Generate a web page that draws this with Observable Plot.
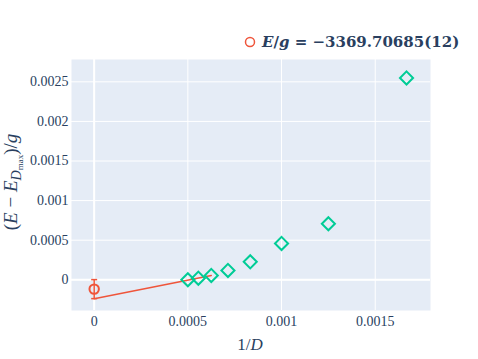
<!DOCTYPE html>
<html>
<head>
<meta charset="utf-8">
<script src="https://cdn.jsdelivr.net/npm/d3@7"></script>
<script src="https://cdn.jsdelivr.net/npm/@observablehq/plot@0.6"></script>
<style>
  html, body { margin: 0; padding: 0; background: white; }
  #chart svg, #chart svg text { font-family: "Liberation Serif", "DejaVu Serif", serif; }
  #chart svg text.math { font-family: "DejaVu Serif", "Liberation Serif", serif; }
</style>
</head>
<body>
<div id="chart"></div>
<script>
// Tick values
const xTicks = [0, 0.0005, 0.001, 0.0015];
const yTicks = [0, 0.0005, 0.001, 0.0015, 0.002, 0.0025];

// Finite-D data: 1/D and (E - E_Dmax)/g
const invD = [0.0005, 0.000556, 0.000625, 0.000714, 0.000833, 0.001, 0.00125, 0.001667];
const dE   = [0, 0.00002, 0.000055, 0.000118, 0.000227, 0.000459, 0.000708, 0.002549];

// Extrapolated point
const extrapX = [0];
const extrapY = [-0.000118];
const extrapErr = [0.00012];

// Fit line endpoints
const fitX = [0, 0.000625];
const fitY = [-0.00024, 0.000055];

const legendLabel = "−3369.70685(12)";

const green = invD.map((x, i) => ({x, y: dE[i]}));
const extrap = extrapX.map((x, i) => ({x, y: extrapY[i], e: extrapErr[i]}));
const caps = extrap.flatMap(d => [{x: d.x, y: d.y + d.e}, {x: d.x, y: d.y - d.e}]);
const fit = fitX.map((x, i) => ({x, y: fitY[i]}));

const capSymbol = {
  draw(context, size) {
    const r = Math.sqrt(size / Math.PI);
    context.moveTo(-r, 0);
    context.lineTo(r, 0);
  }
};

const fmt = d => String(d);
const ink = "#2a3f5f";
const serif = "'Liberation Serif', 'DejaVu Serif', serif";

const chart = Plot.plot({
  width: 478,
  height: 359,
  marginLeft: 71,
  marginRight: 48,
  marginTop: 59,
  marginBottom: 49,
  style: {background: "white", fontFamily: serif, fontSize: "14px", color: ink},
  x: {domain: [-0.000121, 0.001795], label: null},
  y: {domain: [-0.000388, 0.002782], label: null},
  marks: [
    Plot.frame({fill: "#e5ecf6", stroke: "none"}),
    Plot.gridX(xTicks, {stroke: "white", strokeOpacity: 1, strokeWidth: 1}),
    Plot.gridY(yTicks, {stroke: "white", strokeOpacity: 1, strokeWidth: 1}),
    Plot.ruleX([0], {stroke: "white", strokeWidth: 2}),
    Plot.ruleY([0], {stroke: "white", strokeWidth: 2}),
    Plot.axisX(xTicks, {tickSize: 0, tickPadding: 6, tickFormat: fmt, label: null, fill: ink, fontFamily: "Liberation Serif", fontSize: 14}),
    Plot.axisY(yTicks, {tickSize: 0, tickPadding: 3, tickFormat: fmt, label: null, fill: ink, fontFamily: "Liberation Serif", fontSize: 14}),
    Plot.line(fit, {x: "x", y: "y", stroke: "#EF553B", strokeWidth: 1.5}),
    Plot.ruleX(extrap, {x: "x", y1: d => d.y - d.e, y2: d => d.y + d.e, stroke: "#EF553B", strokeWidth: 1.5}),
    Plot.dot(caps, {x: "x", y: "y", symbol: capSymbol, r: 3, stroke: "#EF553B", strokeWidth: 1.5, fill: "none"}),
    Plot.dot(extrap, {x: "x", y: "y", r: 4.7, stroke: "#EF553B", strokeWidth: 2, fill: "none"}),
    Plot.dot(green, {x: "x", y: "y", symbol: "diamond2", r: 5.9, stroke: "#00cc96", strokeWidth: 2, fill: "none"})
  ]
});

document.getElementById("chart").appendChild(chart);

const svg = d3.select(chart);

// Legend
svg.append("circle").attr("cx", 250).attr("cy", 42).attr("r", 4.5)
  .attr("fill", "none").attr("stroke", "#EF553B").attr("stroke-width", 1.5);
const lt = svg.append("text").attr("class", "math").attr("x", 262).attr("y", 47).attr("text-anchor", "start")
  .attr("font-size", 15).attr("fill", ink).attr("font-weight", "bold");
lt.append("tspan").attr("font-style", "italic").text("E");
lt.append("tspan").text("/");
lt.append("tspan").attr("font-style", "italic").text("g");
lt.append("tspan").text(" = " + legendLabel);

// X axis title
const xt = svg.append("text").attr("x", 250).attr("y", 350).attr("text-anchor", "middle")
  .attr("font-size", 17).attr("fill", ink);
xt.append("tspan").text("1/");
xt.append("tspan").attr("font-style", "italic").text("D");

// Y axis title
const yt = svg.append("text").attr("transform", "translate(17,182) rotate(-90)")
  .attr("text-anchor", "middle").attr("font-size", 19).attr("fill", ink);
yt.append("tspan").text("(");
yt.append("tspan").attr("font-style", "italic").text("E");
yt.append("tspan").text(" − ");
yt.append("tspan").attr("font-style", "italic").text("E");
yt.append("tspan").attr("font-style", "italic").attr("font-size", 14).attr("dy", 4).text("D");
yt.append("tspan").attr("font-size", 9).attr("dy", 2).text("max");
yt.append("tspan").attr("dy", -6).text(")/");
yt.append("tspan").attr("font-style", "italic").text("g");
</script>
</body>
</html>
